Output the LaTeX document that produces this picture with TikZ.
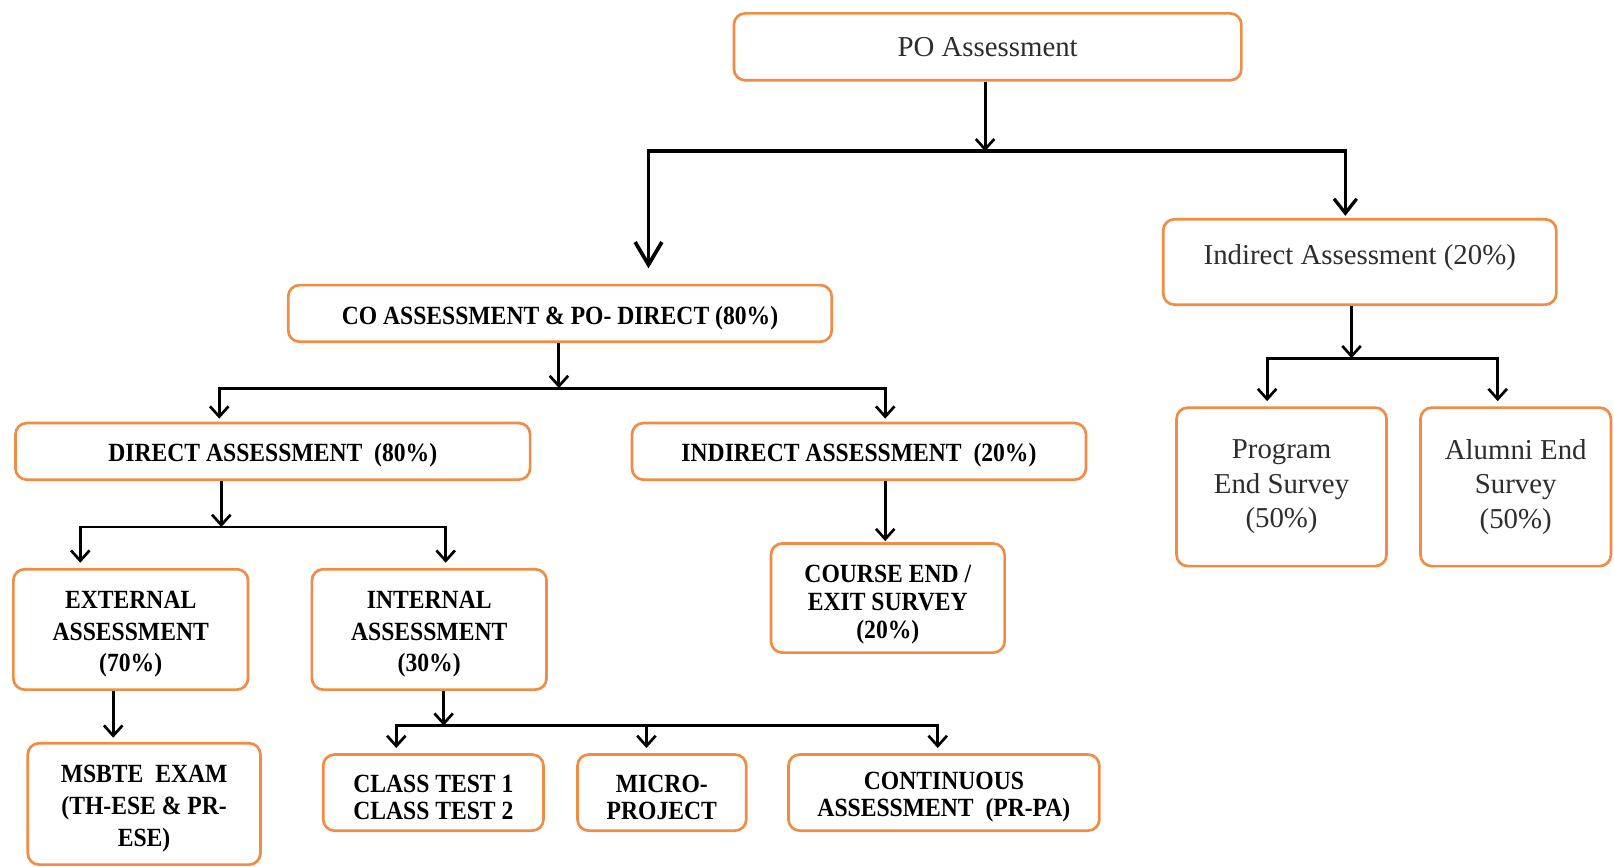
\documentclass[tikz,border=0pt]{standalone}
\usepackage{fontspec}
\setmainfont{Liberation Serif}
\newfontfamily\capfont{Liberation Serif}[FakeStretch=0.9]
\usetikzlibrary{arrows.meta}
\definecolor{boxorange}{RGB}{240,140,70}
\definecolor{txtgray}{RGB}{45,45,45}
% a taller first line pushes the capital lettering a little lower in its box
\newcommand{\capstrut}{\rule{0pt}{26pt}}
\newcommand{\tallstrut}{\rule{0pt}{30pt}}

\begin{document}
\begin{tikzpicture}[x=1pt,y=-1pt,
  box/.style={draw=boxorange, line width=2.6pt, rounded corners=11pt, fill=white,
              inner sep=0pt, align=center},
  capsbox/.style={box, font=\capfont\bfseries\fontsize{25.5}{31}\selectfont, text=black},
  lowbox/.style={box, font=\fontsize{28}{33.5}\selectfont, text=txtgray},
  wire/.style={line width=2.8pt, black},
  arr/.style={wire, -{Straight Barb[length=10pt,width=18pt,line width=2.6pt]}},
  bigarr/.style={line width=3.8pt, black, -{Straight Barb[length=22pt,width=26pt,line width=3.6pt]}},
  midarr/.style={line width=3.6pt, black, -{Straight Barb[length=14pt,width=22pt,line width=3.2pt]}},
]
\useasboundingbox (0,0) rectangle (1568,842);

% top level
\node[lowbox, minimum width=493pt, minimum height=65pt] (po) at (959.5,45.5) {PO Assessment};
\node[lowbox, minimum width=382pt, minimum height=83pt] (ind) at (1321,254.5)
  {Indirect Assessment (20\%)\rule[-14pt]{0pt}{14pt}};
\node[lowbox, minimum width=204pt, minimum height=154pt] (pes) at (1245,473) {Program\\End Survey\\(50\%)};
\node[lowbox, minimum width=185pt, minimum height=154pt] (aes) at (1472.5,473) {Alumni End\\Survey\\(50\%)};

% direct branch
\node[capsbox, minimum width=528pt, minimum height=55pt] (co) at (544,304.5) {\capstrut CO ASSESSMENT \& PO- DIRECT (80\%)};
\node[capsbox, minimum width=500pt, minimum height=55pt] (da) at (265,438.5) {\capstrut DIRECT ASSESSMENT \ (80\%)};
\node[capsbox, minimum width=441pt, minimum height=55pt] (ia) at (834.5,438.5) {\capstrut INDIRECT ASSESSMENT \ (20\%)};
\node[capsbox, minimum width=228pt, minimum height=117pt] (ext) at (127,611.5) {\capstrut EXTERNAL\\ASSESSMENT\\(70\%)};
\node[capsbox, minimum width=228pt, minimum height=117pt] (int) at (417,611.5) {\capstrut INTERNAL\\ASSESSMENT\\(30\%)};
\node[capsbox, minimum width=227pt, minimum height=106pt,
      font=\capfont\bfseries\fontsize{25.5}{27}\selectfont] (ces) at (862.5,581) {\tallstrut COURSE END /\\EXIT SURVEY\\(20\%)};
\node[capsbox, minimum width=226pt, minimum height=118pt] (msb) at (140,781) {\capstrut MSBTE \ EXAM\\(TH-ESE \& PR-\\ESE)};
\node[capsbox, minimum width=214pt, minimum height=74pt,
      font=\capfont\bfseries\fontsize{25.5}{26}\selectfont] (ct) at (421,770) {\capstrut CLASS TEST 1\\CLASS TEST 2};
\node[capsbox, minimum width=164pt, minimum height=74pt,
      font=\capfont\bfseries\fontsize{25.5}{26}\selectfont] (mp) at (643,770) {\capstrut MICRO-\\PROJECT};
\node[capsbox, minimum width=302pt, minimum height=74pt,
      font=\capfont\bfseries\fontsize{25.5}{26}\selectfont] (ca) at (917,770) {\capstrut CONTINUOUS\\ASSESSMENT \ (PR-PA)};

% junctions of the branch lines
\coordinate (j1) at (957,147);
\coordinate (j2) at (1313,348);
\coordinate (j3) at (543,377);
\coordinate (j4) at (215,512);
\coordinate (j5) at (431,705);

% PO Assessment split
\draw[arr] (po.south -| j1) -- (j1);
\draw[bigarr, shorten >=15pt] (j1) -| ([xshift=86pt]co.north);
\draw[midarr, shorten >=2pt] (j1) -| ([xshift=-14pt]ind.north);

% indirect assessment split
\draw[arr] (ind.south -| j2) -- (j2);
\draw[arr, shorten >=5pt] (j2) -| ([xshift=-14pt]pes.north);
\draw[arr, shorten >=5pt] (j2) -| ([xshift=-17.5pt]aes.north);

% CO assessment split
\draw[arr] (co.south -| j3) -- (j3);
\draw[arr, shorten >=3pt] (j3) -| ([xshift=-52pt]da.north);
\draw[arr, shorten >=3pt] (j3) -| ([xshift=25.5pt]ia.north);

% direct assessment split
\draw[arr] (da.south -| j4) -- (j4);
\draw[arr, shorten >=5pt] (j4) -| ([xshift=-49pt]ext.north);
\draw[arr, shorten >=5pt] (j4) -| ([xshift=16pt]int.north);

% single links
\draw[arr, shorten >=1pt] ([xshift=25.5pt]ia.south) -- ([xshift=-2.5pt]ces.north);
\draw[arr, shorten >=4pt] ([xshift=-17pt]ext.south) -- ([xshift=-30pt]msb.north);

% internal assessment split
\draw[arr] (int.south -| j5) -- (j5);
\draw[arr, shorten >=5pt] (j5) -| ([xshift=-36pt]ct.north);
\draw[arr, shorten >=5pt] (j5) -| ([xshift=-15pt]mp.north);
\draw[arr, shorten >=5pt] (j5) -| ([xshift=-6pt]ca.north);
\end{tikzpicture}
\end{document}
